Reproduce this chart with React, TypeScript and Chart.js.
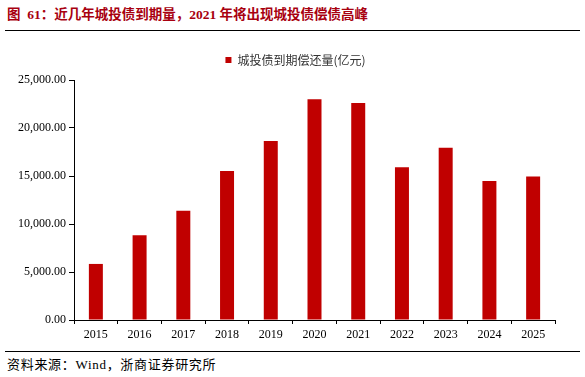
import React, { useEffect, useRef } from "react";
import { Chart, registerables } from "chart.js";

Chart.register(...registerables);

const categories = ["2015", "2016", "2017", "2018", "2019", "2020", "2021", "2022", "2023", "2024", "2025"];
const seriesName = "城投债到期偿还量(亿元)";
const values = [5840, 8820, 11380, 15530, 18640, 23000, 22610, 15900, 17950, 14490, 14940];
const yMax = 25000;
const yStep = 5000;
const titleText = "图 61：近几年城投债到期量，2021 年将出现城投债偿债高峰";
const sourceText = "资料来源：Wind，浙商证券研究所";

const layoutTweaks = {
  id: "layoutTweaks",
  beforeInit(chart: any) {
    const lg = chart.legend;
    if (lg) {
      const orig = lg.fit.bind(lg);
      lg.fit = function () {
        orig();
        this.height += 4;
      };
    }
  },
  afterLayout(chart: any) {
    const lg = chart.legend;
    if (lg) {
      lg.left += 18;
      lg.right += 18;
    }
  },
};

export default function App() {
  const ref = useRef<HTMLCanvasElement>(null);
  useEffect(() => {
    if (!ref.current) return;
    const chart = new Chart(ref.current, {
      type: "bar",
      data: {
        labels: categories,
        datasets: [
          {
            label: seriesName,
            data: values,
            backgroundColor: "#c00000",
            borderWidth: 0,
            barPercentage: 0.32,
            categoryPercentage: 1,
          },
        ],
      },
      options: {
        animation: false,
        responsive: false,
        maintainAspectRatio: false,
        layout: { padding: { top: 8, left: 0, right: 30, bottom: 0 } },
        plugins: {
          legend: {
            display: true,
            position: "top",
            labels: {
              boxWidth: 6,
              boxHeight: 6,
              padding: 6,
              color: "#333",
              font: { family: "'Noto Sans CJK SC'", size: 12 },
            },
          },
          tooltip: { enabled: false },
        },
        scales: {
          x: {
            grid: { drawOnChartArea: false, tickLength: 4, color: "#000", offset: true },
            border: { color: "#000", width: 1 },
            ticks: {
              color: "#000",
              font: { family: "'Liberation Serif'", size: 12 },
              padding: 4,
            },
            afterFit: (s: any) => {
              s.height = 25;
            },
          },
          y: {
            min: 0,
            max: yMax,
            grid: { drawOnChartArea: false, tickLength: 5, color: "#000" },
            border: { color: "#000", width: 1 },
            ticks: {
              stepSize: yStep,
              color: "#000",
              padding: 3,
              font: { family: "'Liberation Serif'", size: 12 },
              callback: (v: any) =>
                Number(v).toLocaleString("en-US", { minimumFractionDigits: 2, maximumFractionDigits: 2 }),
            },
            afterFit: (s: any) => {
              s.width = 74;
            },
          },
        },
      },
      plugins: [layoutTweaks],
    });
    return () => chart.destroy();
  }, []);

  return (
    <div style={{ position: "fixed", left: 0, top: 0, width: 585, height: 377, background: "#fff", overflow: "hidden" }}>
      <div
        style={{
          position: "absolute",
          left: 7,
          top: 6,
          fontFamily: "'Liberation Serif', 'Noto Sans CJK SC'",
          fontWeight: "bold",
          fontSize: 13.5,
          color: "#a8000f",
          whiteSpace: "pre",
          lineHeight: "18px",
        }}
      >
        {titleText.replace(" 61", "  61")}
      </div>
      <div style={{ position: "absolute", left: 5, top: 30, width: 575, height: 0, borderTop: "1.5px solid #000" }} />
      <canvas ref={ref} width={585} height={305} style={{ position: "absolute", left: 0, top: 40, width: 585, height: 305 }} />
      <div style={{ position: "absolute", left: 5, top: 351, width: 575, height: 0, borderTop: "1.5px solid #000" }} />
      <div
        style={{
          position: "absolute",
          left: 7,
          top: 356,
          fontFamily: "'Liberation Serif', 'Noto Sans CJK SC'",
          fontSize: 13,
          letterSpacing: 0.7,
          color: "#000",
          whiteSpace: "nowrap",
          lineHeight: "18px",
        }}
      >
        {sourceText}
      </div>
    </div>
  );
}
